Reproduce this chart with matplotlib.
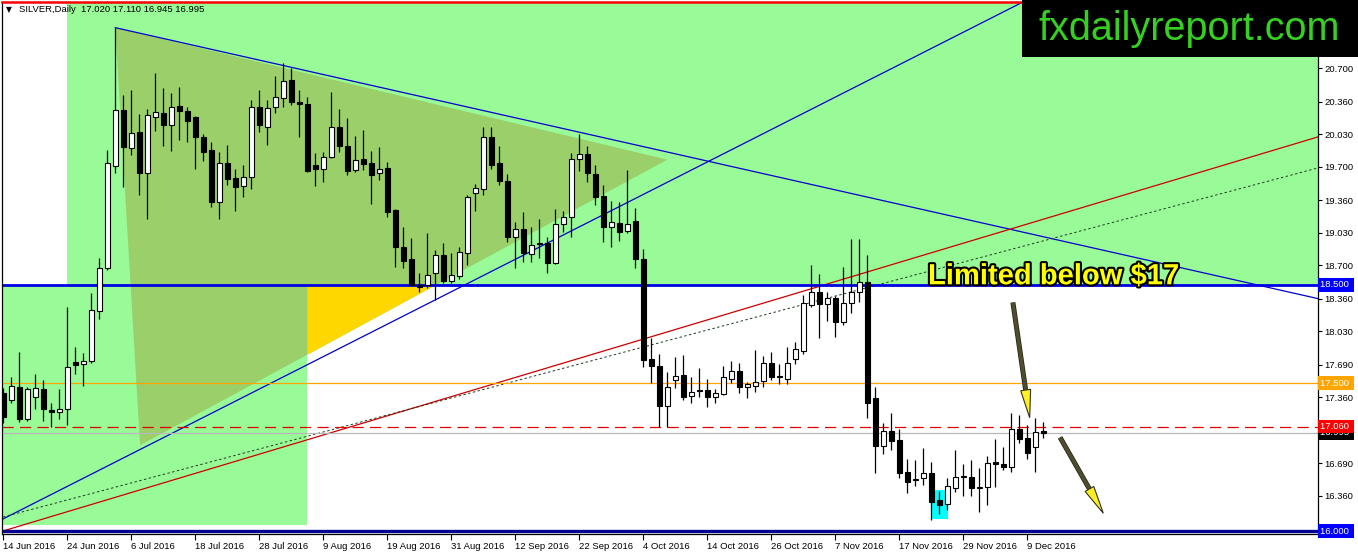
import matplotlib
matplotlib.use("Agg")
import matplotlib.pyplot as plt
import matplotlib.patheffects as pe
import matplotlib.transforms as mtransforms
from matplotlib.patches import Polygon, Rectangle
import numpy as np

# daily OHLC, SILVER, 14 Jun 2016 .. 13 Dec 2016
opens = [17.40, 17.33, 17.46, 17.14, 17.36, 17.44, 17.23, 17.21, 17.24, 17.72,
         17.70, 17.73, 18.23, 18.67, 19.71, 20.27, 19.89, 20.05, 19.63, 20.20,
         20.24, 20.12, 20.31, 20.26, 20.20, 20.00, 19.87, 19.34, 19.74, 19.58,
         19.50, 19.59, 20.30, 20.10, 20.30, 20.40, 20.58, 20.36, 20.34, 19.72,
         19.68, 19.80, 20.10, 19.91, 19.66, 19.78, 19.74, 19.63, 19.69, 19.26,
         18.88, 18.76, 18.50, 18.50, 18.62, 18.80, 18.54, 18.59, 18.82, 19.43,
         19.47, 20.00, 19.74, 19.55, 18.98, 19.07, 18.81, 18.91, 18.92, 18.72,
         19.12, 19.19, 19.78, 19.83, 19.62, 19.40, 19.09, 19.13, 19.05, 19.15,
         18.76, 17.75, 17.68, 17.27, 17.53, 17.58, 17.37, 17.43, 17.43, 17.36,
         17.39, 17.54, 17.62, 17.46, 17.47, 17.52, 17.71, 17.57, 17.54, 17.75,
         17.83, 18.29, 18.43, 18.30, 18.37, 18.12, 18.31, 18.43, 18.53, 17.35,
         16.86, 17.02, 16.92, 16.60, 16.52, 16.54, 16.59, 16.31, 16.27, 16.44,
         16.55, 16.55, 16.44, 16.45, 16.70, 16.68, 16.65, 17.04, 16.94, 16.85,
         17.020]
highs = [17.45, 17.56, 17.82, 17.46, 17.59, 17.53, 17.30, 17.44, 18.27, 17.87,
         17.81, 18.42, 18.77, 19.87, 21.11, 20.43, 20.48, 20.23, 20.28, 20.65,
         20.50, 20.45, 20.51, 20.30, 20.21, 20.03, 19.95, 19.85, 19.92, 19.68,
         19.72, 20.38, 20.48, 20.38, 20.62, 20.75, 20.70, 20.48, 20.41, 19.84,
         19.85, 20.46, 20.28, 20.19, 20.01, 20.07, 19.86, 19.90, 19.75, 19.27,
         19.09, 18.97, 18.62, 19.03, 18.85, 18.92, 18.82, 18.88, 19.41, 19.52,
         20.10, 20.10, 19.91, 19.62, 19.14, 19.24, 19.09, 19.17, 18.98, 19.27,
         19.25, 19.84, 20.03, 19.91, 19.72, 19.51, 19.35, 19.34, 19.66, 19.28,
         18.86, 17.96, 17.80, 17.61, 17.77, 17.79, 17.56, 17.65, 17.54, 17.44,
         17.68, 17.73, 17.71, 17.51, 17.84, 17.78, 17.82, 17.70, 17.87, 17.92,
         18.40, 18.70, 18.61, 18.43, 18.39, 18.68, 18.96, 18.96, 18.80, 17.46,
         17.10, 17.20, 17.04, 16.73, 16.72, 16.84, 16.70, 16.41, 16.54, 16.82,
         16.68, 16.72, 16.64, 16.76, 16.93, 16.85, 17.20, 17.18, 17.08, 17.15,
         17.110]
lows = [17.10, 17.30, 17.11, 17.12, 17.24, 17.12, 17.06, 17.14, 17.08, 17.59,
        17.47, 17.71, 18.15, 18.65, 19.63, 19.49, 19.82, 19.41, 19.17, 20.06,
        19.91, 19.86, 19.97, 19.95, 19.68, 19.76, 19.29, 19.17, 19.51, 19.25,
        19.39, 19.47, 20.05, 19.92, 20.24, 20.30, 20.32, 20.00, 19.64, 19.50,
        19.54, 19.79, 19.85, 19.61, 19.64, 19.66, 19.32, 19.56, 19.19, 18.68,
        18.67, 18.49, 18.43, 18.47, 18.35, 18.52, 18.52, 18.56, 18.70, 19.25,
        19.41, 19.68, 19.51, 18.93, 18.67, 18.73, 18.73, 18.77, 18.62, 18.71,
        19.04, 18.98, 19.65, 19.54, 19.31, 18.93, 18.88, 18.94, 19.03, 18.67,
        17.67, 17.50, 17.06, 17.06, 17.45, 17.33, 17.30, 17.36, 17.26, 17.30,
        17.38, 17.50, 17.40, 17.35, 17.41, 17.46, 17.53, 17.49, 17.49, 17.70,
        17.80, 18.27, 17.96, 18.13, 17.97, 18.09, 18.21, 18.32, 17.15, 16.59,
        16.78, 16.82, 16.54, 16.39, 16.46, 16.47, 16.11, 16.17, 16.21, 16.40,
        16.36, 16.36, 16.19, 16.26, 16.45, 16.62, 16.60, 16.89, 16.73, 16.60,
        16.945]
closes = [17.16, 17.47, 17.14, 17.44, 17.45, 17.24, 17.21, 17.24, 17.67, 17.69,
          17.73, 18.24, 18.67, 19.74, 20.27, 19.90, 20.04, 19.63, 20.22, 20.25,
          20.12, 20.30, 20.26, 20.16, 20.00, 19.85, 19.34, 19.74, 19.57, 19.49,
          19.59, 20.30, 20.12, 20.29, 20.41, 20.57, 20.36, 20.34, 19.65, 19.68,
          19.80, 20.10, 19.91, 19.65, 19.77, 19.73, 19.61, 19.68, 19.24, 18.88,
          18.74, 18.50, 18.48, 18.60, 18.80, 18.54, 18.60, 18.83, 19.39, 19.48,
          20.00, 19.72, 19.55, 18.98, 19.07, 18.82, 18.90, 18.92, 18.72, 19.12,
          19.19, 19.78, 19.83, 19.63, 19.39, 19.09, 19.14, 19.04, 19.12, 18.76,
          17.74, 17.68, 17.27, 17.46, 17.57, 17.36, 17.41, 17.42, 17.36, 17.40,
          17.56, 17.62, 17.46, 17.49, 17.51, 17.71, 17.56, 17.56, 17.71, 17.85,
          18.31, 18.43, 18.30, 18.37, 18.12, 18.31, 18.43, 18.53, 17.30, 16.86,
          17.02, 16.91, 16.59, 16.50, 16.53, 16.59, 16.29, 16.26, 16.46, 16.55,
          16.55, 16.44, 16.44, 16.69, 16.68, 16.65, 17.04, 16.93, 16.79, 17.01,
          16.995]

date_ticks = list(range(0, 129, 8))
date_labels = ["14 Jun 2016", "24 Jun 2016", "6 Jul 2016", "18 Jul 2016",
               "28 Jul 2016", "9 Aug 2016", "19 Aug 2016", "31 Aug 2016",
               "12 Sep 2016", "22 Sep 2016", "4 Oct 2016", "14 Oct 2016",
               "26 Oct 2016", "7 Nov 2016", "17 Nov 2016", "29 Nov 2016",
               "9 Dec 2016"]
price_ticks = [20.70, 20.36, 20.03, 19.70, 19.36, 19.03, 18.70, 18.36,
               18.03, 17.69, 17.36, 16.69, 16.36]

# drawn objects (bar index, price)
triangle = [(14.0, 21.11), (83.0, 19.77), (17.1, 16.87)]
green_top = (8.0, 18.50)          # zone above 18.50 starts at this bar
green_left = (38.0, 16.06)        # zone below 18.50 ends at this bar, bottom price
box_cyan = (115.95, 118.05, 16.12, 16.415)
trend_down = [(14.0, 21.11), (164.3, 18.36)]
trend_up = [(-0.04, 16.122), (127.2, 21.36)]
trend_red = [(-0.04, 16.00), (164.3, 20.00)]
trend_dot = [(-0.04, 16.142), (164.3, 19.685)]
arrow_1 = [(126.2, 18.32), (128.3, 17.15)]
arrow_2 = [(132.1, 16.95), (137.5, 16.18)]
last_price = 16.995

W, H = 1358, 554
BAR_PX, PRICE_PX, X0_PX, Y16_PX = 8.0, 98.5, 3.3, 531.0
AX_L, AX_R, AX_T, AX_B = 2, 1318, 2, 534


def to_idx(px):
    return (px - X0_PX) / BAR_PX


def to_price(py):
    return 16.0 + (Y16_PX - py) / PRICE_PX


fig = plt.figure(figsize=(W / 100, H / 100), dpi=100)
ax = fig.add_axes([AX_L / W, (H - AX_B) / H, (AX_R - AX_L) / W, (AX_B - AX_T) / H])
x_lo, x_hi = to_idx(AX_L), to_idx(AX_R)
y_lo, y_hi = to_price(AX_B), to_price(AX_T)
ax.set_xlim(x_lo, x_hi)
ax.set_ylim(y_lo, y_hi)

# background zones
ax.add_patch(Rectangle((green_top[0], green_top[1]), x_hi + 5 - green_top[0],
                       y_hi + 1 - green_top[1], fc="#98FB98", ec="none", zorder=0.5))
ax.add_patch(Rectangle((x_lo - 1, green_left[1]), green_left[0] - x_lo + 1,
                       green_top[1] - green_left[1], fc="#98FB98", ec="none", zorder=0.5))
ax.add_patch(Polygon(triangle, closed=True, fc="#9BCF6A", ec="none", zorder=0.7))
# part of the triangle outside the green zones shows as gold
(ax2_, ay2_), (ax3_, ay3_) = triangle[1], triangle[2]
slope = (ay2_ - ay3_) / (ax2_ - ax3_)
p_cut = ay3_ + (green_left[0] - ax3_) * slope
x_cut = ax3_ + (green_top[1] - ay3_) / slope
ax.add_patch(Polygon([(green_left[0], green_top[1]), (x_cut, green_top[1]),
                      (green_left[0], p_cut)], closed=True, fc="#FFD700", ec="none", zorder=0.8))
ax.add_patch(Rectangle((box_cyan[0], box_cyan[2]), box_cyan[1] - box_cyan[0],
                       box_cyan[3] - box_cyan[2], fc="#00FFFF", ec="none", zorder=0.9))


def extend(seg):
    (xa, ya), (xb, yb) = seg
    k = (yb - ya) / (xb - xa)
    xs = np.array([x_lo - 2, x_hi + 2])
    return xs, ya + (xs - xa) * k


xs, ys = extend(trend_up)
ax.plot(xs, ys, color="#0000CC", lw=0.9, zorder=2)
ax.plot([p[0] for p in trend_down], [p[1] for p in trend_down], color="#0000CC", lw=0.9, zorder=2)
ax.plot([p[0] for p in trend_red], [p[1] for p in trend_red], color="#CC0000", lw=0.9, zorder=2)
ax.plot([p[0] for p in trend_dot], [p[1] for p in trend_dot], color="#1E3A1E", lw=0.7,
        ls=(0, (2.5, 2.5)), zorder=2)

# horizontal levels
ax.axhline(18.5, color="#0000E6", lw=2.0, zorder=2.2)
ax.axhline(17.5, color="#FFA500", lw=0.9, zorder=2.2)
ax.axhline(17.06, color="#E00000", lw=0.9, ls=(0, (9, 5)), zorder=2.2)
ax.axhline(last_price, color="#B8B8B8", lw=0.9, zorder=2.1)
ax.axhline(16.0, color="#000090", lw=2.4, zorder=2.2)

# candles
n = len(opens)
x = np.arange(n)
o, h, l, c = map(np.array, (opens, highs, lows, closes))
ax.vlines(x, l, h, color="black", lw=0.9, zorder=3)
bottom = np.minimum(o, c)
height = np.maximum(np.abs(c - o), 0.006)
face = ["white" if cc >= oo else "black" for oo, cc in zip(o, c)]
ax.bar(x, height, bottom=bottom, width=0.62, color=face, edgecolor="black",
       linewidth=0.8, zorder=3.1)


def draw_arrow(seg):
    (xa, ya), (xb, yb) = seg
    pa = np.array([X0_PX + xa * BAR_PX, Y16_PX - (ya - 16) * PRICE_PX])
    pb = np.array([X0_PX + xb * BAR_PX, Y16_PX - (yb - 16) * PRICE_PX])
    u = (pb - pa) / np.linalg.norm(pb - pa)
    nrm = np.array([-u[1], u[0]])
    base = pb - 28 * u
    pts = [pb, base + 5 * nrm, base - 5 * nrm]
    back = lambda p: (to_idx(p[0]), to_price(p[1]))
    ax.plot([xa, back(base)[0]], [ya, back(base)[1]], color="#4E4E2E", lw=2.6,
            solid_capstyle="butt", zorder=4,
            path_effects=[pe.withStroke(linewidth=3.6, foreground="#202010")])
    ax.add_patch(Polygon([back(p) for p in pts], closed=True, fc="#FFEE22",
                         ec="#303020", lw=0.8, zorder=4.1))


draw_arrow(arrow_1)
draw_arrow(arrow_2)

ax.text(to_idx(928), 18.505, "Limited below $17", fontsize=21, fontweight="bold",
        family="Liberation Sans", color="#FFFF00", va="baseline", ha="left", zorder=5,
        path_effects=[pe.withStroke(linewidth=3, foreground="black")])

# axes styling
for side in ("left", "right", "bottom"):
    ax.spines[side].set_color("black")
    ax.spines[side].set_linewidth(0.9)
ax.spines["top"].set_color("#FF0000")
ax.spines["top"].set_linewidth(1.8)
ax.yaxis.tick_right()
ax.set_yticks(price_ticks)
ax.set_yticklabels([f"{v:.3f}" for v in price_ticks], family="Liberation Sans")
ax.tick_params(axis="y", direction="out", length=3, width=0.8, labelsize=6.8, pad=1.5)
ax.set_xticks(date_ticks)
ax.set_xticklabels(date_labels, ha="left", family="Liberation Sans")
ax.tick_params(axis="x", direction="out", length=4, width=0.8, labelsize=6.8, pad=2)

# price labels on the scale; the red 17.060 box sits on top of the bid box
blend = mtransforms.blended_transform_factory(ax.transAxes, ax.transData)
price_boxes = [(18.5, "#0000FF", 6), (17.5, "#FFA500", 6), (last_price, "#000000", 6),
               (17.06, "#FF0000", 7), (16.0, "#0000FF", 6)]
for val, bg, z in price_boxes:
    ax.text(1.0015, val, f"{val:.3f} ", transform=blend, fontsize=6.8, color="white",
            family="Liberation Sans", ha="left", va="center", zorder=z, clip_on=False,
            bbox=dict(boxstyle="square,pad=0.25", fc=bg, ec="none"))

# header text and watermark
fig.text(6 / W, 1 - 10 / H, "\u25bc", fontsize=5.5, family="DejaVu Sans", va="center")
fig.text(19 / W, 1 - 10 / H, "SILVER,Daily  17.020 17.110 16.945 16.995", fontsize=6.8,
         family="Liberation Sans", va="center")
fig.patches.append(Rectangle((1022 / W, 1 - 57 / H), 336 / W, 57 / H, fc="black",
                             ec="none", transform=fig.transFigure, figure=fig, zorder=10))
fig.text(1189 / W, 1 - 40 / H, "fxdailyreport.com", fontsize=28.5, family="Liberation Sans",
         color="#35D020", ha="center", va="baseline", zorder=11)

fig.savefig("out.png", dpi=100)
